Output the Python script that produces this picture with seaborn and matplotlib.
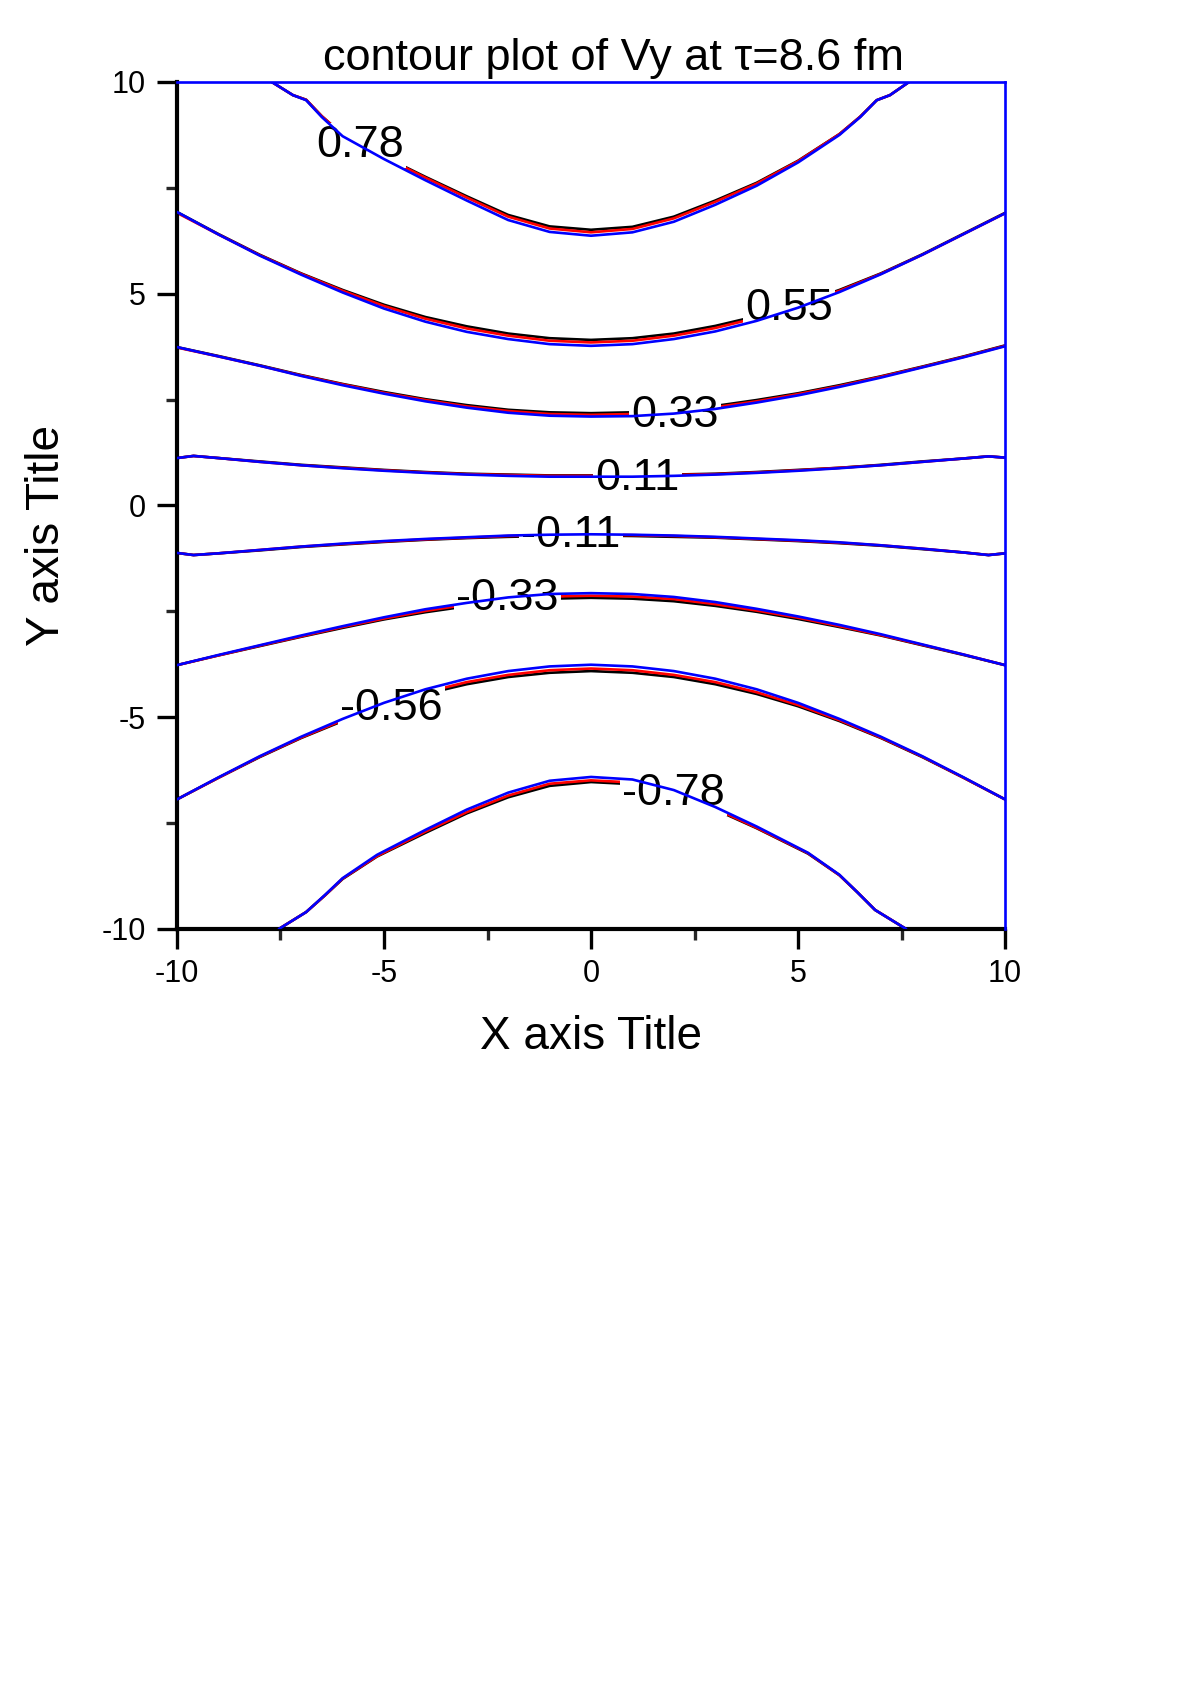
import numpy as np
import pandas as pd
import matplotlib
matplotlib.use("Agg")
import matplotlib.pyplot as plt
import seaborn as sns
from matplotlib.ticker import MultipleLocator

# ==============================
# contour lines (x, y per level)
# k_ = black, r_ = red, b_ = blue
# ==============================
x_grid = [-10, -9, -8, -7, -6, -5, -4, -3, -2, -1, 0, 1, 2, 3, 4, 5, 6, 7, 8, 9, 10]
x_011 = [-10, -9.6, -9, -8, -7, -6, -5, -4, -3, -2, -1, 0, 1, 2, 3, 4, 5, 6, 7, 8, 9, 9.6, 10]
x_078 = [-7.71, -7.2, -6.88, -6.5, -6, -5, -4, -3, -2, -1, 0, 1, 2, 3, 4, 5, 6, 6.5, 6.9, 7.22, 7.68]
x_m078 = [-7.54, -6.88, -6.43, -6, -5.17, -4, -3, -2, -1, 0, 1, 2, 3, 4, 5.24, 6, 6.43, 6.86, 7.61]

k_078 = [10.0, 9.69, 9.58, 9.19, 8.76, 8.24, 7.76, 7.30, 6.86, 6.59, 6.51, 6.58, 6.82, 7.20, 7.62, 8.14, 8.77, 9.18, 9.57, 9.69, 10.0]
r_078 = [10.0, 9.69, 9.58, 9.19, 8.76, 8.23, 7.74, 7.27, 6.82, 6.54, 6.45, 6.53, 6.78, 7.17, 7.60, 8.13, 8.77, 9.18, 9.57, 9.69, 10.0]
b_078 = [10.0, 9.69, 9.57, 9.17, 8.72, 8.18, 7.68, 7.20, 6.74, 6.46, 6.37, 6.45, 6.70, 7.10, 7.55, 8.10, 8.75, 9.17, 9.57, 9.69, 10.0]

k_055 = [6.93, 6.41, 5.92, 5.48, 5.09, 4.74, 4.45, 4.23, 4.06, 3.95, 3.91, 3.95, 4.06, 4.24, 4.47, 4.75, 5.09, 5.48, 5.93, 6.42, 6.91]
r_055 = [6.91, 6.40, 5.91, 5.47, 5.07, 4.71, 4.41, 4.18, 4.01, 3.89, 3.85, 3.89, 4.01, 4.19, 4.43, 4.72, 5.07, 5.47, 5.92, 6.41, 6.90]
b_055 = [6.93, 6.40, 5.90, 5.45, 5.03, 4.65, 4.34, 4.10, 3.93, 3.81, 3.77, 3.81, 3.93, 4.11, 4.36, 4.67, 5.04, 5.46, 5.92, 6.41, 6.90]

k_033 = [3.74, 3.53, 3.31, 3.08, 2.87, 2.68, 2.51, 2.37, 2.26, 2.20, 2.18, 2.20, 2.25, 2.35, 2.49, 2.65, 2.84, 3.05, 3.28, 3.52, 3.78]
r_033 = [3.73, 3.52, 3.30, 3.07, 2.86, 2.66, 2.49, 2.34, 2.23, 2.16, 2.14, 2.16, 2.22, 2.32, 2.46, 2.63, 2.82, 3.04, 3.27, 3.51, 3.77]
b_033 = [3.74, 3.52, 3.30, 3.06, 2.84, 2.64, 2.46, 2.31, 2.19, 2.12, 2.10, 2.11, 2.17, 2.28, 2.43, 2.60, 2.80, 3.02, 3.26, 3.50, 3.76]

k_011 = [1.12, 1.17, 1.12, 1.04, 0.96, 0.90, 0.84, 0.79, 0.75, 0.73, 0.71, 0.71, 0.71, 0.73, 0.75, 0.79, 0.84, 0.89, 0.96, 1.04, 1.11, 1.16, 1.13]
r_011 = [1.12, 1.17, 1.12, 1.03, 0.95, 0.89, 0.83, 0.78, 0.74, 0.72, 0.70, 0.70, 0.70, 0.72, 0.74, 0.78, 0.83, 0.89, 0.95, 1.03, 1.11, 1.16, 1.13]
b_011 = [1.12, 1.17, 1.12, 1.03, 0.95, 0.88, 0.82, 0.77, 0.73, 0.70, 0.68, 0.68, 0.68, 0.70, 0.73, 0.77, 0.82, 0.88, 0.95, 1.03, 1.11, 1.16, 1.13]

k_m011 = [-1.12, -1.17, -1.13, -1.06, -0.98, -0.92, -0.86, -0.81, -0.77, -0.74, -0.72, -0.71, -0.72, -0.74, -0.76, -0.80, -0.84, -0.89, -0.95, -1.03, -1.11, -1.17, -1.13]
r_m011 = [-1.12, -1.17, -1.13, -1.05, -0.97, -0.91, -0.85, -0.80, -0.76, -0.72, -0.70, -0.69, -0.70, -0.72, -0.75, -0.79, -0.83, -0.88, -0.94, -1.02, -1.11, -1.17, -1.13]
b_m011 = [-1.12, -1.17, -1.13, -1.05, -0.97, -0.90, -0.84, -0.79, -0.75, -0.71, -0.69, -0.68, -0.69, -0.71, -0.74, -0.78, -0.82, -0.87, -0.94, -1.02, -1.11, -1.17, -1.13]

k_m033 = [-3.77, -3.54, -3.32, -3.10, -2.89, -2.69, -2.52, -2.38, -2.27, -2.20, -2.18, -2.20, -2.26, -2.37, -2.51, -2.68, -2.87, -3.07, -3.30, -3.53, -3.77]
r_m033 = [-3.77, -3.54, -3.31, -3.09, -2.87, -2.67, -2.49, -2.34, -2.22, -2.15, -2.13, -2.15, -2.21, -2.33, -2.48, -2.65, -2.85, -3.06, -3.29, -3.52, -3.77]
b_m033 = [-3.77, -3.53, -3.30, -3.07, -2.85, -2.64, -2.45, -2.30, -2.17, -2.09, -2.07, -2.09, -2.16, -2.28, -2.44, -2.62, -2.82, -3.04, -3.28, -3.52, -3.77]

k_m056 = [-6.94, -6.43, -5.94, -5.49, -5.09, -4.74, -4.45, -4.22, -4.05, -3.95, -3.91, -3.95, -4.05, -4.22, -4.45, -4.74, -5.09, -5.49, -5.94, -6.43, -6.94]
r_m056 = [-6.94, -6.43, -5.93, -5.48, -5.07, -4.71, -4.41, -4.17, -4.00, -3.89, -3.85, -3.89, -4.00, -4.17, -4.41, -4.71, -5.07, -5.48, -5.93, -6.43, -6.94]
b_m056 = [-6.94, -6.42, -5.92, -5.46, -5.04, -4.66, -4.34, -4.09, -3.91, -3.80, -3.76, -3.80, -3.91, -4.09, -4.34, -4.66, -5.04, -5.46, -5.92, -6.42, -6.94]

k_m078 = [-10.0, -9.6, -9.21, -8.82, -8.29, -7.73, -7.27, -6.89, -6.62, -6.53, -6.58, -6.80, -7.18, -7.62, -8.22, -8.73, -9.13, -9.55, -10.0]
r_m078 = [-10.0, -9.6, -9.21, -8.81, -8.28, -7.70, -7.24, -6.85, -6.57, -6.49, -6.54, -6.77, -7.16, -7.61, -8.21, -8.73, -9.13, -9.55, -10.0]
b_m078 = [-10.0, -9.6, -9.2, -8.80, -8.25, -7.66, -7.18, -6.78, -6.50, -6.41, -6.47, -6.72, -7.12, -7.58, -8.20, -8.72, -9.13, -9.55, -10.0]

levels = ["0.78", "0.55", "0.33", "0.11", "-0.11", "-0.33", "-0.56", "-0.78"]
level_x = [x_078, x_grid, x_grid, x_011, x_011, x_grid, x_grid, x_m078]
black_y = [k_078, k_055, k_033, k_011, k_m011, k_m033, k_m056, k_m078]
red_y = [r_078, r_055, r_033, r_011, r_m011, r_m033, r_m056, r_m078]
blue_y = [b_078, b_055, b_033, b_011, b_m011, b_m033, b_m056, b_m078]

# label anchors (x centre, baseline y) in data units
label_x = [-5.58, 4.79, 2.03, 1.12, -0.48, -2.02, -4.82, 2.0]
label_y = [8.23, 4.38, 1.85, 0.37, -0.98, -2.47, -5.06, -7.07]

# ==============================
# long table for seaborn
# ==============================
rows = []
for model, ys_all in [("black", black_y), ("red", red_y), ("blue", blue_y)]:
    for lev, xs, ys in zip(levels, level_x, ys_all):
        for x, y in zip(xs, ys):
            rows.append({"model": model, "level": lev, "x": x, "y": y})
df = pd.DataFrame(rows)

sns.set_theme(style="white")
plt.rcParams["font.family"] = ["Liberation Sans", "DejaVu Sans"]
plt.rcParams["axes.unicode_minus"] = False
plt.rcParams["text.color"] = "black"
plt.rcParams["axes.labelcolor"] = "black"

fig = plt.figure(figsize=(11.83, 16.94), dpi=100)
ax = fig.add_axes([0.1496, 0.4516, 0.7, 0.5])

colors = {"black": "black", "red": "#ff0000", "blue": "#0000ff"}
zorders = {"black": 2, "red": 2.2, "blue": 4}
for model in ["black", "red", "blue"]:
    sns.lineplot(data=df[df["model"] == model], x="x", y="y", units="level",
                 estimator=None, sort=False, color=colors[model], lw=1.9,
                 zorder=zorders[model], legend=False, ax=ax)

for txt, lx, ly in zip(levels, label_x, label_y):
    ax.text(lx, ly, txt, ha="center", va="baseline", fontsize=32.5, color="black",
            zorder=3, bbox=dict(boxstyle="square,pad=0.05", fc="white", ec="none"))

ax.set_xlim(-10, 10)
ax.set_ylim(-10, 10)
ax.xaxis.set_major_locator(MultipleLocator(5))
ax.xaxis.set_minor_locator(MultipleLocator(2.5))
ax.yaxis.set_major_locator(MultipleLocator(5))
ax.yaxis.set_minor_locator(MultipleLocator(2.5))
ax.tick_params(which="major", direction="out", length=14.5, width=2.4, labelsize=22,
               pad=7, colors="black", bottom=True, left=True, top=False, right=False)
ax.tick_params(which="minor", direction="out", length=8, width=2.4,
               bottom=True, left=True, top=False, right=False)
ax.tick_params(axis="y", which="major", pad=8)

for side in ["left", "bottom"]:
    ax.spines[side].set_color("black")
    ax.spines[side].set_linewidth(3.0)
for side in ["top", "right"]:
    ax.spines[side].set_color("#0000ff")
    ax.spines[side].set_linewidth(1.9)
    ax.spines[side].set_zorder(5)

ax.set_xlabel("X axis Title", fontsize=33, color="black")
ax.set_ylabel("Y axis Title", fontsize=33, color="black")
ax.xaxis.label.set_va("center")
ax.yaxis.label.set_va("center")
ax.xaxis.set_label_coords(0.5, -0.1275)
ax.yaxis.set_label_coords(-0.157, 0.465)

ax.text(0.527, 1.014, "contour plot of Vy at \u03c4=8.6 fm", transform=ax.transAxes,
        ha="center", va="baseline", fontsize=32.5, color="black")

fig.savefig("out.png", dpi=100)
